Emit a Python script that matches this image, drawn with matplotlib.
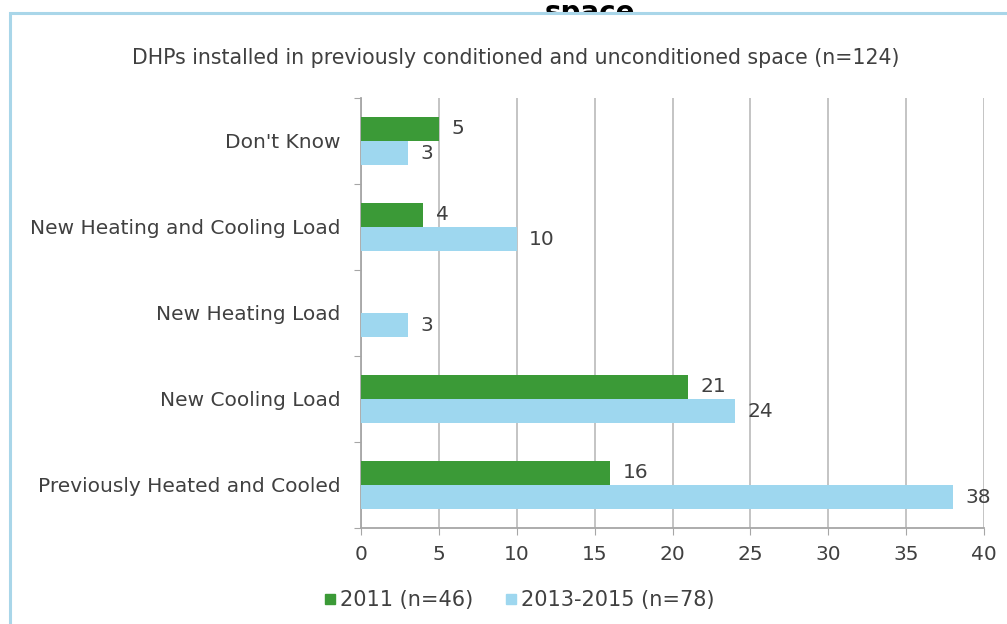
import numpy as np
import matplotlib
matplotlib.use('Agg')
import matplotlib.pyplot as plt
from matplotlib.patches import Rectangle
from matplotlib.lines import Line2D
from matplotlib.transforms import Bbox, TransformedBbox

# data
categories = ["Don't Know", "New Heating and Cooling Load", "New Heating Load",
              "New Cooling Load", "Previously Heated and Cooled"]
vals_2011 = [5, 4, None, 21, 16]
vals_2013 = [3, 10, 3, 24, 38]
series_names = ["2011 (n=46)", "2013-2015 (n=78)"]
xticks = [0, 5, 10, 15, 20, 25, 30, 35, 40]

green = '#3b9a37'
blue = '#9ed7ef'
txt = '#404040'
grid_c = '#bfbfbf'
axis_c = '#a6a6a6'
fs = 14.5

plt.rcParams['font.family'] = 'DejaVu Sans'

fig = plt.figure(figsize=(10.07, 6.24), dpi=100)

# cropped heading from the page above the chart frame (only its top strip shows)
top_edge = 1.0 - 12.5 / 624
t = fig.text(0.586, 1.0 - 21 / 624, 'space', ha='center', va='baseline',
             fontsize=20, fontweight='bold', color='black', zorder=0)
t.set_clip_box(TransformedBbox(Bbox([[0, top_edge], [1, 1]]), fig.transFigure))
t.set_clip_on(True)

# chart frame (white panel with light blue border)
frame = Rectangle((10 / 1007, -0.1), 1.2, top_edge + 0.1,
                  transform=fig.transFigure, facecolor='white',
                  edgecolor='#a9d6e9', lw=2.2, zorder=1)
fig.add_artist(frame)

ax = fig.add_axes([361 / 1007, 96 / 624, 623 / 1007, 430 / 624], zorder=2)
ax.patch.set_alpha(0)

y = np.arange(len(categories))
h = 0.28
g = [np.nan if v is None else v for v in vals_2011]
ax.barh(y - h / 2, g, height=h, color=green, zorder=3)
ax.barh(y + h / 2, vals_2013, height=h, color=blue, zorder=3)

for i, v in enumerate(vals_2011):
    if v is not None:
        ax.annotate(str(v), (v, i - h / 2), xytext=(9, 0), textcoords='offset points',
                    va='center', ha='left', fontsize=fs, color=txt)
for i, v in enumerate(vals_2013):
    ax.annotate(str(v), (v, i + h / 2), xytext=(9, 0), textcoords='offset points',
                va='center', ha='left', fontsize=fs, color=txt)

ax.set_xlim(0, 40)
ax.set_ylim(len(categories) - 0.5, -0.5)
ax.set_xticks(xticks)
ax.set_xticklabels([str(t) for t in xticks], fontsize=fs, color=txt)
ax.tick_params(axis='x', length=5, color=axis_c, pad=7)

ax.set_yticks(np.arange(len(categories) + 1) - 0.5)
ax.set_yticklabels([])
ax.set_yticks(y, minor=True)
ax.set_yticklabels(categories, minor=True, fontsize=fs, color=txt)
ax.tick_params(axis='y', which='major', length=5, color=axis_c)
ax.tick_params(axis='y', which='minor', length=0, pad=15)

ax.xaxis.grid(True, color=grid_c, lw=1.3, zorder=0)
ax.set_axisbelow(True)
for s in ['top', 'right']:
    ax.spines[s].set_visible(False)
for s in ['left', 'bottom']:
    ax.spines[s].set_color(axis_c)
    ax.spines[s].set_linewidth(1.3)

fig.text(0.512, 1 - 58 / 624, 'DHPs installed in previously conditioned and unconditioned space (n=124)',
         ha='center', va='center', fontsize=14.8, color=txt, zorder=3)

handles = [Line2D([], [], marker='s', ls='', color=green, markersize=6.5),
           Line2D([], [], marker='s', ls='', color=blue, markersize=6.5)]
fig.legend(handles, series_names, loc='center', bbox_to_anchor=(0.516, 0.038),
           ncol=2, frameon=False, fontsize=15, handlelength=0.5, handletextpad=0.2,
           columnspacing=1.6, labelcolor=txt)

fig.savefig('out.png', dpi=100)
